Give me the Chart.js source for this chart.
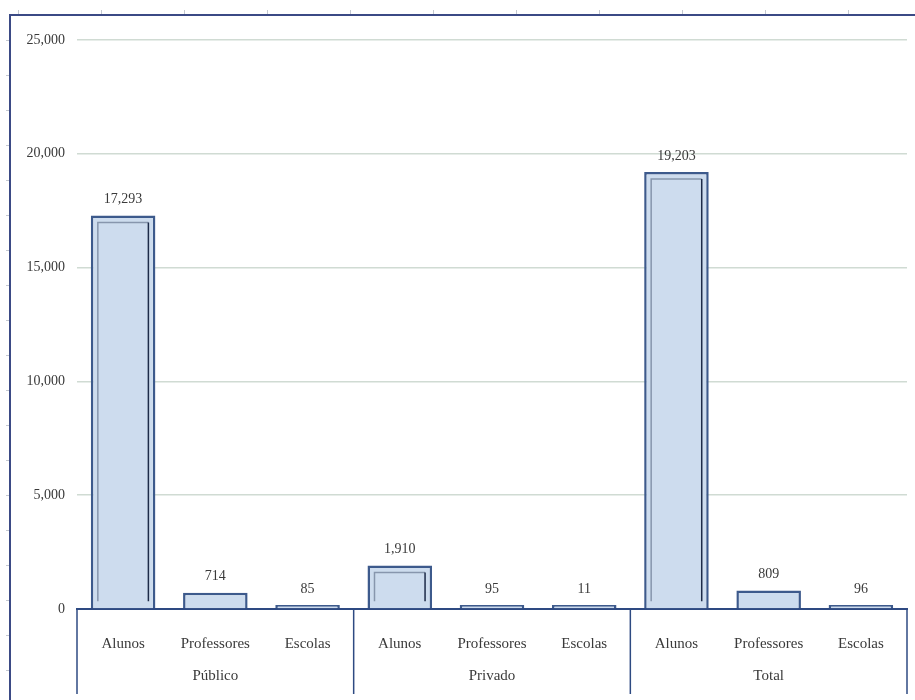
<!DOCTYPE html>
<html>
<head>
<meta charset="utf-8">
<script src="https://cdn.jsdelivr.net/npm/chart.js@4.4.0/dist/chart.umd.min.js"></script>
<style>
  html, body { margin: 0; padding: 0; background: #fff; }
  #wrap { width: 915px; height: 700px; position: relative; }
</style>
</head>
<body>
<div id="wrap"><canvas id="grafico"></canvas></div>
<script>
// dados
var categorias = ['Alunos', 'Professores', 'Escolas', 'Alunos', 'Professores', 'Escolas', 'Alunos', 'Professores', 'Escolas'];
var grupos = ['Público', 'Privado', 'Total'];
var valores = [17293, 714, 85, 1910, 95, 11, 19203, 809, 96];
var yTicks = [0, 5000, 10000, 15000, 20000, 25000];

var fonte = '"Liberation Serif", "DejaVu Serif", serif';
var azulEscuro = '#2e4a82';

// moldura + separadores de grupo + rótulos
var extras = {
  id: 'extras',
  afterDraw: function(chart) {
    var ctx = chart.ctx;
    var x = chart.scales.x;
    var area = chart.chartArea;
    ctx.save();
    // moldura externa
    ctx.strokeStyle = '#3b4a85';
    ctx.lineWidth = 2;
    ctx.beginPath();
    ctx.moveTo(10, 700);
    ctx.lineTo(10, 15);
    ctx.lineTo(915, 15);
    ctx.stroke();
    // pequenas marcas
    ctx.strokeStyle = '#c4c8d0';
    ctx.lineWidth = 1;
    for (var i = 0; i < 11; i++) {
      var tx = 18 + i * 83;
      ctx.beginPath(); ctx.moveTo(tx + 0.5, 10); ctx.lineTo(tx + 0.5, 14); ctx.stroke();
    }
    for (var j = 0; j < 20; j++) {
      var ty = 40 + j * 35;
      ctx.beginPath(); ctx.moveTo(6, ty + 0.5); ctx.lineTo(9, ty + 0.5); ctx.stroke();
    }
    // separadores
    ctx.strokeStyle = azulEscuro;
    ctx.lineWidth = 1.5;
    var n = categorias.length / grupos.length;
    for (var g = 0; g <= grupos.length; g++) {
      var sx;
      if (g === 0) sx = area.left;
      else if (g === grupos.length) sx = area.right;
      else sx = (x.getPixelForValue(g * n - 1) + x.getPixelForValue(g * n)) / 2;
      ctx.beginPath(); ctx.moveTo(sx, area.bottom); ctx.lineTo(sx, 694); ctx.stroke();
    }
    // nomes dos grupos
    ctx.fillStyle = '#3a3a3a';
    ctx.font = '15px ' + fonte;
    ctx.textAlign = 'center';
    ctx.textBaseline = 'middle';
    for (var k = 0; k < grupos.length; k++) {
      var cx = x.getPixelForValue(k * n + 1);
      ctx.fillText(grupos[k], cx, 676);
    }
    ctx.restore();
  },
  afterDatasetsDraw: function(chart) {
    var ctx = chart.ctx;
    var meta = chart.getDatasetMeta(0);
    ctx.save();
    meta.data.forEach(function(bar, i) {
      var l = bar.x - bar.width / 2, r = bar.x + bar.width / 2;
      var t = bar.y, b = bar.base;
      // efeito interno
      if (b - t > 30) {
        var ins = 7;
        ctx.lineWidth = 1.5;
        ctx.strokeStyle = '#8796ad';
        ctx.beginPath();
        ctx.moveTo(l + ins, b - 7);
        ctx.lineTo(l + ins, t + ins);
        ctx.lineTo(r - ins, t + ins);
        ctx.stroke();
        ctx.strokeStyle = '#1d2b48';
        ctx.beginPath();
        ctx.moveTo(r - ins, t + ins);
        ctx.lineTo(r - ins, b - 7);
        ctx.stroke();
      }
      // valores
      ctx.fillStyle = '#3a3a3a';
      ctx.font = '14px ' + fonte;
      ctx.textAlign = 'center';
      ctx.textBaseline = 'bottom';
      ctx.fillText(valores[i].toLocaleString('en-US'), bar.x, t - 9);
    });
    ctx.restore();
  }
};

var ctx = document.getElementById('grafico').getContext('2d');
var grafico = new Chart(ctx, {
  type: 'bar',
  data: {
    labels: categorias,
    datasets: [{
      data: valores,
      backgroundColor: '#cddcee',
      borderColor: '#3d5a8c',
      borderWidth: 2.5,
      borderSkipped: 'bottom',
      minBarLength: 4,
      categoryPercentage: 0.7,
      barPercentage: 1
    }]
  },
  options: {
    responsive: true,
    maintainAspectRatio: false,
    animation: false,
    layout: { padding: { left: 10, right: 8, top: 40, bottom: 0 } },
    plugins: { legend: { display: false }, tooltip: { enabled: false } },
    scales: {
      x: {
        grid: { display: false },
        border: { color: azulEscuro, width: 2 },
        ticks: { color: '#3a3a3a', font: { family: fonte, size: 15 }, padding: 18, maxRotation: 0, autoSkip: false },
        afterFit: function(s) { s.height = 91; }
      },
      y: {
        min: 0, max: 25000,
        afterBuildTicks: function(s) { s.ticks = yTicks.map(function(v) { return { value: v }; }); },
        grid: { color: '#d0dbd3', lineWidth: 1.5, drawTicks: false },
        border: { display: false },
        ticks: {
          color: '#3a3a3a', padding: 12,
          font: { family: fonte, size: 14 },
          callback: function(v) { return v.toLocaleString('en-US'); }
        },
        afterFit: function(s) { s.width = 67; }
      }
    }
  },
  plugins: [extras]
});
</script>
</body>
</html>
